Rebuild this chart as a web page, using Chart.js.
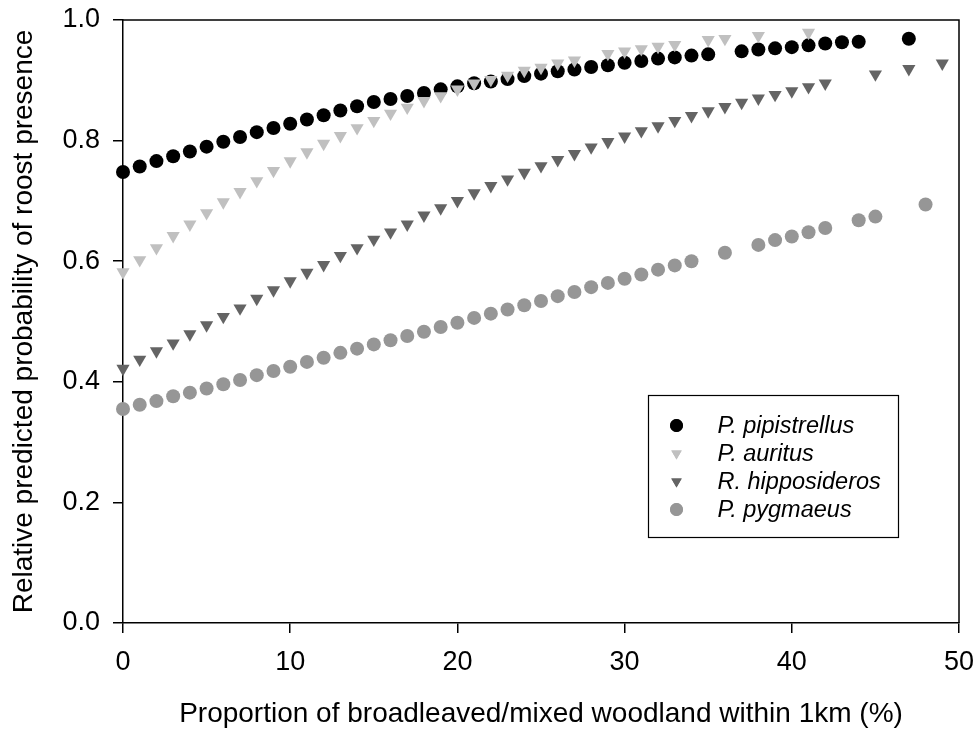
<!DOCTYPE html>
<html><head><meta charset="utf-8">
<script src="https://cdn.jsdelivr.net/npm/chart.js@4/dist/chart.umd.min.js"></script>
<style>html,body{margin:0;padding:0;background:#fff;} canvas{display:block;}</style>
</head><body>
<canvas id="c" width="978" height="733"></canvas>
<script>
const speciesNames = ['P. pipistrellus', 'P. auritus', 'R. hipposideros', 'P. pygmaeus'];

const pipX = [0,1,2,3,4,5,6,7,8,9,10,11,12,13,14,15,16,17,18,19,20,21,22,23,24,25,26,27,28,29,30,31,32,33,34,35,37,38,39,40,41,42,43,44,47];
const pipY = [0.748,0.757,0.766,0.774,0.782,0.790,0.798,0.806,0.814,0.821,0.828,0.835,0.842,0.850,0.857,0.864,0.869,0.874,0.879,0.885,0.890,0.895,0.898,0.902,0.907,0.911,0.915,0.918,0.922,0.925,0.929,0.932,0.936,0.938,0.941,0.943,0.948,0.951,0.953,0.955,0.958,0.961,0.963,0.964,0.969];

const aurX = [0,1,2,3,4,5,6,7,8,9,10,11,12,13,14,15,16,17,18,19,20,21,22,23,24,25,26,27,29,30,31,32,33,35,36,38,41];
const aurY = [0.582,0.602,0.622,0.642,0.661,0.680,0.698,0.715,0.733,0.750,0.766,0.781,0.795,0.808,0.821,0.833,0.845,0.855,0.866,0.874,0.885,0.895,0.901,0.908,0.916,0.921,0.928,0.933,0.944,0.948,0.952,0.956,0.959,0.967,0.969,0.974,0.979];

const hipX = [0,1,2,3,4,5,6,7,8,9,10,11,12,13,14,15,16,17,18,19,20,21,22,23,24,25,26,27,28,29,30,31,32,33,34,35,36,37,38,39,40,41,42,45,47,49];
const hipY = [0.422,0.437,0.451,0.464,0.479,0.494,0.508,0.522,0.538,0.552,0.567,0.581,0.594,0.609,0.622,0.636,0.648,0.661,0.676,0.688,0.700,0.713,0.725,0.736,0.747,0.758,0.768,0.778,0.789,0.798,0.807,0.816,0.824,0.833,0.841,0.849,0.856,0.863,0.870,0.876,0.882,0.889,0.895,0.910,0.919,0.928];

const pygX = [0,1,2,3,4,5,6,7,8,9,10,11,12,13,14,15,16,17,18,19,20,21,22,23,24,25,26,27,28,29,30,31,32,33,34,36,38,39,40,41,42,44,45,48];
const pygY = [0.355,0.362,0.368,0.376,0.382,0.389,0.396,0.403,0.411,0.418,0.425,0.433,0.440,0.448,0.455,0.462,0.469,0.476,0.483,0.491,0.498,0.506,0.513,0.520,0.527,0.534,0.542,0.549,0.557,0.564,0.571,0.578,0.586,0.593,0.600,0.614,0.627,0.635,0.641,0.648,0.655,0.668,0.674,0.694];

const xTicks = [0,10,20,30,40,50];
const yTicks = [0.0,0.2,0.4,0.6,0.8,1.0];

const toPts = (xs, ys) => xs.map((x, i) => ({x: x, y: ys[i]}));

const FONT = 'Liberation Sans, Arial, sans-serif';

const styles = [
  {color: '#000000', style: 'circle', rot: 0, r: 7, lr: 6.5},
  {color: '#c0c0c0', style: 'triangle', rot: 180, r: 7.6, lr: 6},
  {color: '#646464', style: 'triangle', rot: 180, r: 7.6, lr: 6},
  {color: '#969696', style: 'circle', rot: 0, r: 7, lr: 6.5}
];
const series = [toPts(pipX, pipY), toPts(aurX, aurY), toPts(hipX, hipY), toPts(pygX, pygY)];

const datasets = series.map((d, i) => ({
  label: speciesNames[i],
  data: d,
  pointStyle: styles[i].style,
  rotation: styles[i].rot,
  pointRadius: styles[i].r,
  backgroundColor: styles[i].color,
  borderColor: styles[i].color,
  borderWidth: 0,
  showLine: false,
  clip: false,
  order: 4 - i
}));

const framePlugin = {
  id: 'frameLegend',
  afterDraw(chart) {
    const ctx = chart.ctx;
    const a = chart.chartArea;
    ctx.save();
    ctx.strokeStyle = '#000';
    ctx.lineWidth = 1.5;
    ctx.beginPath();
    ctx.moveTo(a.left, a.top);
    ctx.lineTo(a.right, a.top);
    ctx.lineTo(a.right, a.bottom);
    ctx.stroke();

    // legend box
    const bx = 648.5, by = 395.5, bw = 250, bh = 142;
    ctx.fillStyle = '#fff';
    ctx.fillRect(bx, by, bw, bh);
    ctx.lineWidth = 1.2;
    ctx.strokeRect(bx, by, bw, bh);
    ctx.font = 'italic 23.5px ' + FONT;
    ctx.textBaseline = 'middle';
    ctx.textAlign = 'left';
    chart.data.datasets.forEach((ds, i) => {
      const y = by + 30 + i * 28;
      const st = styles[i];
      ctx.fillStyle = st.color;
      Chart.helpers.drawPoint(ctx, {pointStyle: st.style, rotation: st.rot, radius: st.lr, borderWidth: 0}, bx + 28, y);
      ctx.fill();
      ctx.fillStyle = '#000';
      ctx.fillText(ds.label, bx + 69, y + 1);
    });
    ctx.restore();
  }
};

new Chart(document.getElementById('c'), {
  type: 'scatter',
  data: {datasets: datasets},
  plugins: [framePlugin],
  options: {
    responsive: false,
    animation: false,
    events: [],
    layout: {padding: {top: 20, right: 19, left: 0, bottom: 0}},
    plugins: {legend: {display: false}, tooltip: {enabled: false}},
    scales: {
      x: {
        type: 'linear', min: 0, max: 50,
        afterBuildTicks: s => { s.ticks = xTicks.map(v => ({value: v})); },
        afterFit: s => { s.height = 110; s.paddingLeft = 0; s.paddingRight = 0; },
        grid: {drawOnChartArea: false, drawTicks: true, tickLength: 10, color: '#000', lineWidth: 1.5},
        border: {display: true, color: '#000', width: 1.5},
        ticks: {color: '#000', padding: 13, font: {family: FONT, size: 27}, maxRotation: 0},
        title: {display: true, text: 'Proportion of broadleaved/mixed woodland within 1km (%)', color: '#000',
                font: {family: FONT, size: 28}, padding: {top: 0, bottom: 2}}
      },
      y: {
        type: 'linear', min: 0, max: 1,
        afterBuildTicks: s => { s.ticks = yTicks.map(v => ({value: v})); },
        afterFit: s => { s.width = 123; s.paddingTop = 0; s.paddingBottom = 0; },
        grid: {drawOnChartArea: false, drawTicks: true, tickLength: 10, color: '#000', lineWidth: 1.5},
        border: {display: true, color: '#000', width: 1.5},
        ticks: {color: '#000', padding: 13, font: {family: FONT, size: 27}, callback: v => v.toFixed(1)},
        title: {display: true, text: 'Relative predicted probability of roost presence', color: '#000',
                font: {family: FONT, size: 28}, padding: {top: 7, bottom: 0}}
      }
    }
  }
});
</script>
</body></html>
